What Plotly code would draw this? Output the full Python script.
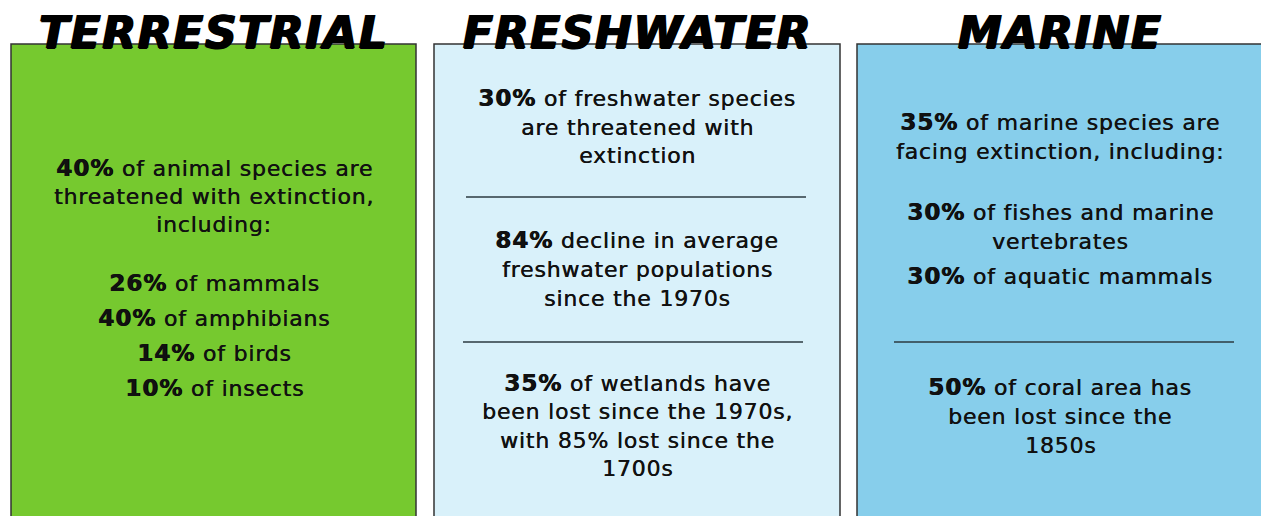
import plotly.graph_objects as go

W, H = 1261, 516

titles = ["TERRESTRIAL", "FRESHWATER", "MARINE"]
panel_colors = ["#76C92F", "#D9F1FA", "#87CEEB"]

terrestrial_lines = [
    ("40%", " of animal species are"),
    ("", "threatened with extinction,"),
    ("", "including:"),
    ("26%", " of mammals"),
    ("40%", " of amphibians"),
    ("14%", " of birds"),
    ("10%", " of insects"),
]
freshwater_lines = [
    ("30%", " of freshwater species"),
    ("", "are threatened with"),
    ("", "extinction"),
    ("84%", " decline in average"),
    ("", "freshwater populations"),
    ("", "since the 1970s"),
    ("35%", " of wetlands have"),
    ("", "been lost since the 1970s,"),
    ("", "with 85% lost since the"),
    ("", "1700s"),
]
marine_lines = [
    ("35%", " of marine species are"),
    ("", "facing extinction, including:"),
    ("30%", " of fishes and marine"),
    ("", "vertebrates"),
    ("30%", " of aquatic mammals"),
    ("50%", " of coral area has"),
    ("", "been lost since the"),
    ("", "1850s"),
]

# layout geometry (pixel coordinates on the axes)
panels_x = [(11, 416), (434, 840), (857, 1266)]
panel_top = 44
line_y = {
    0: [168, 196, 224, 283, 318, 353, 388],
    1: [98, 127, 155, 240, 269, 298, 383, 411, 440, 468],
    2: [122, 151, 212, 241, 276, 387, 416, 445],
}
dividers = [(466, 806, 197), (463, 803, 342), (894, 1234, 342)]
title_x = [214, 637, 1060]
centers = [214, 637, 1060]

TITLE_FONT = "DejaVu Sans"
BODY_FONT = "DejaVu Sans"

fig = go.Figure()
fig.add_trace(go.Scatter(x=[0, W], y=[0, H], mode="markers",
                         marker=dict(opacity=0), hoverinfo="skip", showlegend=False))

for (x0, x1), col in zip(panels_x, panel_colors):
    fig.add_shape(type="rect", x0=x0, x1=x1, y0=panel_top, y1=H + 10,
                  fillcolor=col, line=dict(color="#333333", width=1.5), layer="below")

for x0, x1, y in dividers:
    fig.add_shape(type="line", x0=x0, x1=x1, y0=y, y1=y,
                  line=dict(color="#2b3a40", width=1.3))

for cx, t in zip(title_x, titles):
    fig.add_annotation(x=cx, y=32, text="<span style='letter-spacing:1.6px'>" + t + "</span>",
                       showarrow=False, xanchor="center", yanchor="middle",
                       font=dict(family=TITLE_FONT, size=44, color="#000000",
                                 weight="bold", style="italic",
                                 shadow="1px 0 0 #000, -1px 0 0 #000, 0 1px 0 #000"))

for p, lines in enumerate([terrestrial_lines, freshwater_lines, marine_lines]):
    for (pct, rest), y in zip(lines, line_y[p]):
        txt = ""
        if pct:
            txt += ("<span style='font-weight:bold;font-size:23px;letter-spacing:1px;"
                    "text-shadow:0.7px 0 0 #000'>" + pct + "</span>")
        txt += ("<span style='letter-spacing:0.8px;text-shadow:0.4px 0 0 #111'>"
                + rest + "</span>")
        fig.add_annotation(x=centers[p], y=y, text=txt, showarrow=False,
                           xanchor="center", yanchor="middle",
                           font=dict(family=BODY_FONT, size=22, color="#111111"))

fig.update_layout(
    width=W, height=H, margin=dict(l=0, r=0, t=0, b=0),
    paper_bgcolor="white", plot_bgcolor="white",
    xaxis=dict(range=[0, W], visible=False, fixedrange=True),
    yaxis=dict(range=[H, 0], visible=False, fixedrange=True),
    showlegend=False,
)
fig.write_html("out.html", config={"displayModeBar": False},
               post_script="document.body.style.margin='0';")
